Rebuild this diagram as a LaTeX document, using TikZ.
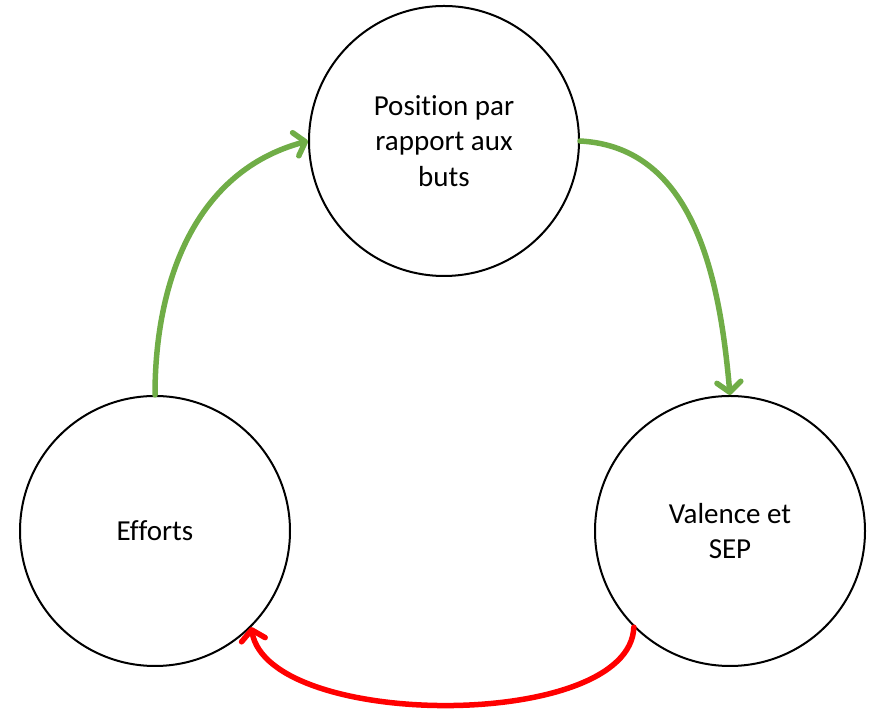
\documentclass[tikz,border=0pt]{standalone}
\usepackage{fontspec}
\setmainfont{Carlito}[Ligatures=NoCommon]
\usetikzlibrary{arrows.meta}
\definecolor{arrowgreen}{RGB}{112,173,71}
\definecolor{arrowred}{RGB}{255,0,0}
\begin{document}
\begin{tikzpicture}[x=1pt,y=1pt,
  circ/.style={circle,draw=black,line width=2pt,minimum size=270pt,inner sep=0pt,
    align=center,font=\fontsize{29}{35.5}\selectfont},
  link/.style={line width=5.5pt,line cap=round,
    -{Straight Barb[length=10pt,width=24pt,round]}},
  greenlink/.style={link,draw=arrowgreen},
  redlink/.style={link,draw=arrowred}]
\useasboundingbox (0,0) rectangle (871,709);
\node[circ] (pos) at (444,568) {Position par\\rapport aux\\buts};
\node[circ] (eff) at (155,178) {Efforts};
\node[circ] (val) at (730,178) {Valence et\\SEP};
\draw[greenlink] (eff.north) to[out=90,in=195] (pos.west);
\draw[greenlink] (pos.east) to[out=-3,in=95] (val.north);
\draw[redlink] (val.225) to[out=-92,in=-80,looseness=0.7] (eff.-45);
\end{tikzpicture}
\end{document}
